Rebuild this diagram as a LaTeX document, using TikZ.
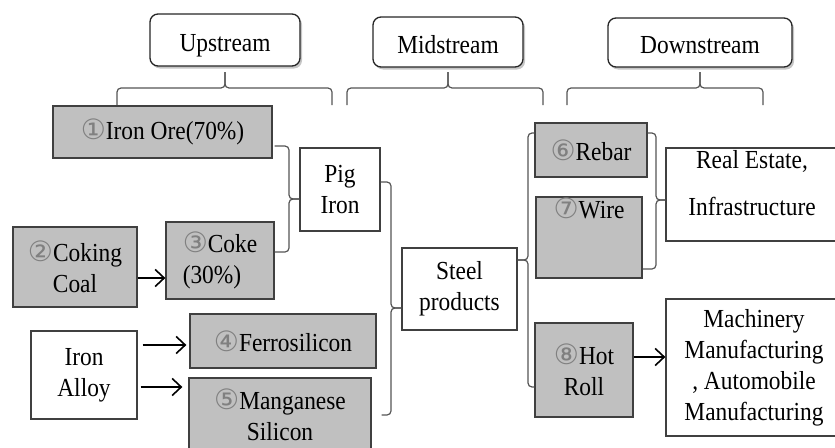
\documentclass[tikz,border=0pt]{standalone}
\usepackage{fontspec}
\setmainfont{Liberation Serif}[FakeStretch=0.9]
\newfontfamily\circfont{DejaVu Sans}
\usetikzlibrary{arrows.meta,shadows,calc}
\newcommand\cnum[1]{{\circfont\fontsize{28}{28}\selectfont\color{black!50}#1}}
\definecolor{boxgray}{HTML}{C0C0C0}
\definecolor{edgegray}{HTML}{404040}
\definecolor{bracegray}{HTML}{555555}
\begin{document}
\begin{tikzpicture}[x=1pt,y=-1pt,
  font=\fontsize{26}{31}\selectfont,
  hdr/.style={draw=black!85, line width=1.3pt, rounded corners=8pt, fill=white,
    drop shadow={shadow xshift=2pt,shadow yshift=-2.5pt,opacity=.45}, inner sep=0pt,
    text height=22pt, text depth=0pt},
  gbox/.style={draw=edgegray, line width=1.3pt, fill=boxgray, inner sep=0pt, align=center},
  wbox/.style={draw=edgegray, line width=1.3pt, fill=white, inner sep=0pt, align=center},
  bracepath/.style={draw=bracegray, line width=1.2pt, rounded corners=4pt},
  arr/.style={line width=1.6pt, -{Straight Barb[length=9pt,width=17pt,line width=1.6pt]}},
]
\useasboundingbox (0,0) rectangle (835,447);
\clip (0,0) rectangle (835,447);

% headers
\node[hdr, minimum width=150pt, minimum height=52pt] (up) at (225,40) {Upstream};
\node[hdr, minimum width=150pt, minimum height=50pt] (mid) at (448,42) {Midstream};
\node[hdr, minimum width=184pt, minimum height=49pt] (down) at (700,42.5) {Downstream};

% upstream
\node[gbox, minimum width=219pt, minimum height=52pt] (ore) at (162.5,132) {\cnum{①}Iron Ore(70\%)};
\node[wbox, minimum width=80pt, minimum height=83pt] (pig) at (340,189.5) {Pig\\Iron};
\node[gbox, minimum width=124pt, minimum height=80pt] (coal) at (75,267) {\cnum{②}Coking\\Coal};
\node[gbox, minimum width=108pt, minimum height=77pt, align=left] (coke) at (220,260.5) {\cnum{③}Coke\\(30\%)};
\node[wbox, minimum width=106pt, minimum height=88pt] (alloy) at (84,375) {Iron\\Alloy};
\node[gbox, minimum width=186pt, minimum height=54pt] (ferro) at (283,341) {\cnum{④}Ferrosilicon};
\node[gbox, minimum width=182pt, minimum height=74pt] (mang) at (280,415) {\cnum{⑤}Manganese\\Silicon};

% midstream
\node[wbox, minimum width=115pt, minimum height=82pt] (steel) at (459.5,289) {Steel\\products};

% downstream
\node[gbox, minimum width=112pt, minimum height=54pt] (rebar) at (591,150) {\cnum{⑥}Rebar};
\node[gbox, minimum width=106pt, minimum height=81pt,
  label={[anchor=north, inner sep=0pt, yshift=-1pt]north:\cnum{⑦}Wire}] (wire) at (589,237.5) {};
\node[wbox, minimum width=176pt, minimum height=93pt,
  label={[anchor=center, align=center, inner sep=0pt, xshift=-2pt, yshift=11pt]center:Real Estate,\\[16pt]Infrastructure}] (real) at (754,194.5) {};
\node[gbox, minimum width=98pt, minimum height=94pt] (hot) at (584,370) {\cnum{⑧}Hot\\Roll};
\node[wbox, minimum width=176pt, minimum height=137pt] (mach) at (754,367.5) {Machinery\\Manufacturing\\, Automobile\\Manufacturing};

% horizontal braces under headers
\draw[bracepath] (117,105) |- (up.south |- 0,88) -- (up.south |- 0,72);
\draw[bracepath] (332,105) |- (up.south |- 0,88) -- (up.south |- 0,72);
\draw[bracepath] (347,105) |- (mid.south |- 0,88) -- (mid.south |- 0,72);
\draw[bracepath] (543,105) |- (mid.south |- 0,88) -- (mid.south |- 0,72);
\draw[bracepath] (567,105) |- (down.south |- 0,88) -- (down.south |- 0,72);
\draw[bracepath] (763,105) |- (down.south |- 0,88) -- (down.south |- 0,72);

% vertical braces
\draw[bracepath] ($(ore.east |- 0,146)+(2,0)$) -| (289,199) -- (pig.west |- 0,199);
\draw[bracepath] (coke.east |- 0,252) -| (289,199) -- (pig.west |- 0,199);

\draw[bracepath] (pig.east |- 0,182) -| (391,308) -- (steel.west |- 0,308);
\draw[bracepath] ($(mang.east |- 0,415)+(10,0)$) -| (391,308) -- (steel.west |- 0,308);

\draw[bracepath] (rebar.west |- 0,133) -| (528,260) -- (steel.east |- 0,260);
\draw[bracepath] (hot.west |- 0,387) -| (528,260) -- (steel.east |- 0,260);

\draw[bracepath] (rebar.east |- 0,133) -| (656,200) -- (real.west |- 0,200);
\draw[bracepath] (wire.east |- 0,269) -| (656,200) -- (real.west |- 0,200);

% arrows
\draw[arr] (coal.east |- 0,278) -- (coke.west |- 0,278);
\draw[arr] ($(alloy.east |- 0,345)+(5,0)$) -- ($(ferro.west |- 0,345)+(-3,0)$);
\draw[arr] ($(alloy.east |- 0,387)+(3,0)$) -- ($(mang.west |- 0,387)+(-6,0)$);
\draw[arr] (hot.east |- 0,357) -- (mach.west |- 0,357);
\end{tikzpicture}
\end{document}
